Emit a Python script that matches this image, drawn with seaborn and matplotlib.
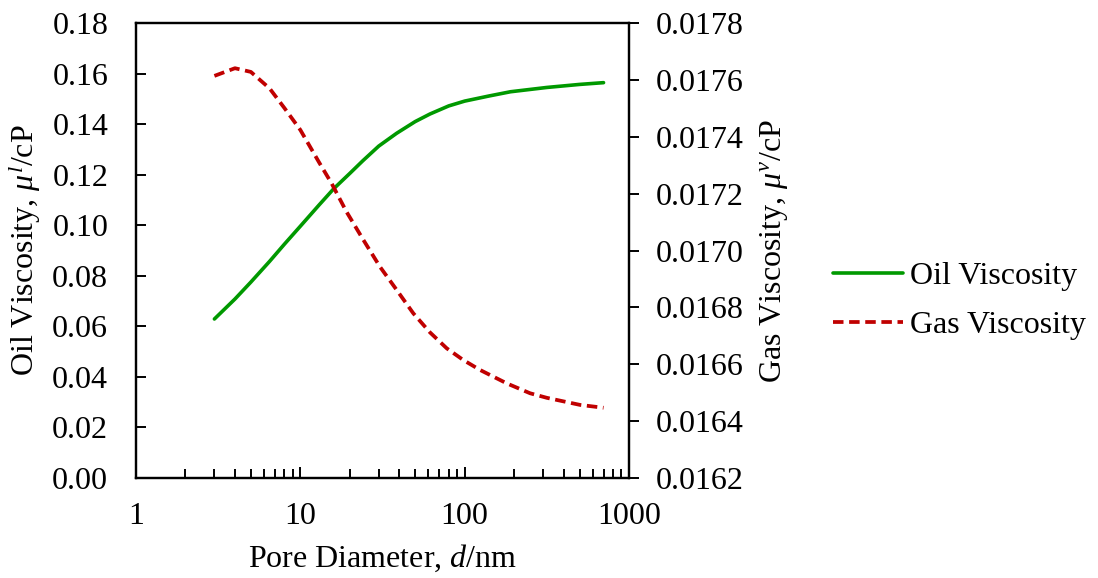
import numpy as np
import pandas as pd
import matplotlib
matplotlib.use("Agg")
import matplotlib.pyplot as plt
import seaborn as sns

# Data
oil_d = [3, 4, 5, 6.5, 8, 10, 13, 16, 20, 24, 30, 38.6, 50, 61.5, 80, 100, 140, 190, 316, 500, 700]
oil_visc = [0.0629, 0.0708, 0.0775, 0.0857, 0.0925, 0.0996, 0.1080, 0.1145, 0.1205, 0.1255,
            0.1313, 0.1364, 0.1410, 0.1440, 0.1472, 0.1491, 0.1511, 0.1528, 0.1545, 0.1557, 0.1564]
gas_d = [3, 4, 5, 6.5, 8, 10, 13, 15.5, 19.1, 24.2, 30.5, 38.6, 48.7, 61.5, 77.8, 98, 124,
         180, 250, 316, 504, 700]
gas_visc = [0.017614, 0.017641, 0.017628, 0.017570, 0.017501, 0.017424, 0.017310, 0.017236,
            0.017136, 0.017037, 0.016943, 0.016861, 0.016779, 0.016712, 0.016656, 0.016615,
            0.016580, 0.016533, 0.016498, 0.016482, 0.016457, 0.016447]
left_ticks = [0.00, 0.02, 0.04, 0.06, 0.08, 0.10, 0.12, 0.14, 0.16, 0.18]
right_ticks = [0.0162, 0.0164, 0.0166, 0.0168, 0.0170, 0.0172, 0.0174, 0.0176, 0.0178]
x_ticks = [1, 10, 100, 1000]

df_oil = pd.DataFrame({"d": oil_d, "oil": oil_visc})
df_gas = pd.DataFrame({"d": gas_d, "gas": gas_visc})

sns.set_style("ticks")
plt.rcParams["font.family"] = ["Liberation Serif", "DejaVu Serif"]
plt.rcParams["mathtext.fontset"] = "custom"
plt.rcParams["mathtext.rm"] = "Liberation Serif"
plt.rcParams["mathtext.it"] = "Liberation Serif:italic"
plt.rcParams["axes.linewidth"] = 1.6
for k in ["text.color", "axes.labelcolor", "xtick.color", "ytick.color", "axes.edgecolor"]:
    plt.rcParams[k] = "black"

FS = 23
fig = plt.figure(figsize=(10.98, 5.78), dpi=100)
ax = fig.add_axes([136/1098, 1-478/578, (629-136)/1098, (478-23)/578])
ax2 = ax.twinx()

green = "#009900"
red = "#C00000"
sns.lineplot(data=df_oil, x="d", y="oil", ax=ax, color=green, lw=2.6, label="Oil Viscosity", legend=False)
sns.lineplot(data=df_gas, x="d", y="gas", ax=ax2, color=red, lw=2.7, label="Gas Viscosity", legend=False)
ax2.lines[0].set_dashes((2.8, 1.5))

ax.set_xscale("log")
ax.set_xlim(1, 1000)
ax.set_ylim(0, 0.18)
ax2.set_ylim(0.0162, 0.0178)
ax.set_xticks(x_ticks)
ax.set_xticklabels([str(t) for t in x_ticks])
ax.set_yticks(left_ticks)
ax.set_yticklabels([f"{t:.2f}" for t in left_ticks])
ax2.set_yticks(right_ticks)
ax2.set_yticklabels([f"{t:.4f}" for t in right_ticks])

ax.tick_params(axis="x", which="major", direction="in", length=8, width=1.4, labelsize=FS, pad=17, top=False, colors="black")
ax.tick_params(axis="x", which="minor", direction="in", length=6.5, width=1.4, top=False, colors="black")
ax.tick_params(axis="y", which="both", direction="in", length=7, width=1.4, labelsize=FS, pad=20, right=False, colors="black")
ax2.tick_params(axis="y", direction="out", length=7, width=1.4, labelsize=FS, pad=12, colors="black")
for a in (ax, ax2):
    for s in a.spines.values():
        s.set_visible(True)
        s.set_color("black")
        s.set_linewidth(1.6)

ax.set_xlabel(r"Pore Diameter, $d$/nm", fontsize=FS, color="black")
ax.set_ylabel(r"Oil Viscosity, $\mu^{l}$/cP", fontsize=FS, color="black")
ax2.set_ylabel(r"Gas Viscosity, $\mu^{v}$/cP", fontsize=FS, color="black")
ax.xaxis.set_label_coords(0.5, (478-543)/455)
ax.yaxis.set_label_coords((43-136)/493, 0.5)
ax2.yaxis.set_label_coords((758-136)/493, 0.5)

h1, l1 = ax.get_legend_handles_labels()
h2, l2 = ax2.get_legend_handles_labels()
leg = fig.legend(h1 + h2, l1 + l2, loc="center left", bbox_to_anchor=(833/1098, 1-301/578),
                 frameon=False, fontsize=FS, handlelength=2.2, handletextpad=0.22,
                 labelspacing=0.62, borderpad=0, borderaxespad=0, labelcolor="black")

fig.savefig("out.png", dpi=100)
